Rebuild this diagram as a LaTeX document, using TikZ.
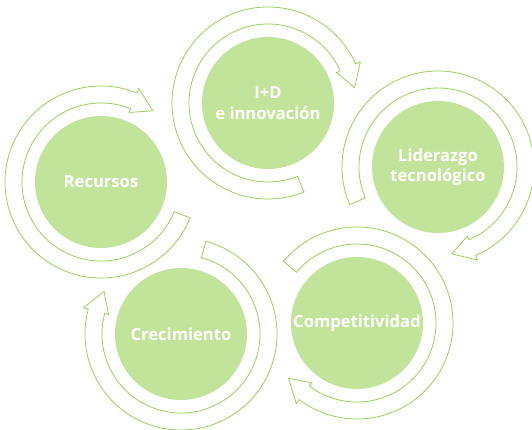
\documentclass[tikz,border=0pt]{standalone}
\usepackage{fontspec}
\setsansfont{Open Sans}
\usepackage{tikz}
\usetikzlibrary{positioning}
\definecolor{ringgreen}{RGB}{146,208,80}
\definecolor{bubblegreen}{RGB}{194,228,154}

\begin{document}
\begin{tikzpicture}[
    x=1pt, y=1pt,
    font=\sffamily\bfseries\fontsize{16.6}{20.5}\selectfont,
    bubble/.style={
		circle,
		fill=bubblegreen,
		text=white,
		minimum size=132pt,
		inner sep=0pt,
		align=center
	},
	ringarrow/.style={
		draw=ringgreen,
		fill=white,
		line width=0.75pt
	}
  ]
  \useasboundingbox (0,0) rectangle (532,429);
    % We start by placing the circles

  \node [bubble] (innov) at (268,326) {I+D\\e innovación};
  \node [bubble] (lider) at (438,262) {Liderazgo\\tecnológico};
  \node [bubble] (compet) at (357,106) {Competitividad};
  \node [bubble] (crec) at (181,95) {Crecimiento};
  \node [bubble] (recur) at (101,247) {Recursos};

    % then the round arrows around them
 \draw [ringarrow, shift={(innov.center)}] (292:96) arc [start angle=292, end angle=24, radius=96]
   -- (24:101) -- (10:88) -- (24:75) -- (24:79) arc [start angle=24, end angle=292, radius=79] -- cycle;
 \draw [ringarrow, shift={(lider.center)}] (203:96) arc [start angle=203, end angle=-67, radius=96]
   -- (-67:101) -- (-81:88) -- (-67:75) -- (-67:79) arc [start angle=-67, end angle=203, radius=79] -- cycle;
 \draw [ringarrow, shift={(compet.center)}] (140:96) arc [start angle=140, end angle=-127, radius=96]
   -- (-127:101) -- (-141:88) -- (-127:75) -- (-127:79) arc [start angle=-127, end angle=140, radius=79] -- cycle;
 \draw [ringarrow, shift={(crec.center)}] (75:96) arc [start angle=75, end angle=-195, radius=96]
   -- (-195:101) -- (-209:88) -- (-195:75) -- (-195:79) arc [start angle=-195, end angle=75, radius=79] -- cycle;
 \draw [ringarrow, shift={(recur.center)}] (-22:96) arc [start angle=-22, end angle=-292, radius=96]
   -- (-292:101) -- (-306:88) -- (-292:75) -- (-292:79) arc [start angle=-292, end angle=-22, radius=79] -- cycle;

\end{tikzpicture}
\end{document}
